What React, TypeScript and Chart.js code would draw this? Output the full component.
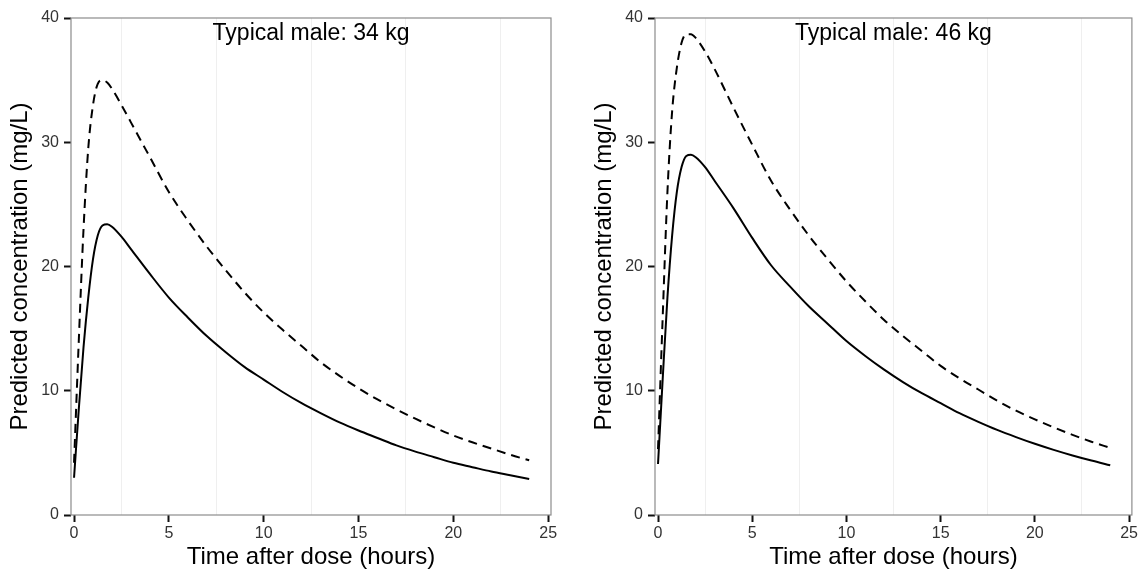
import React, { useEffect, useRef } from "react";
import { Chart, registerables } from "chart.js";

Chart.register(...registerables);

const times = [0, 0.25, 0.5, 0.75, 1, 1.25, 1.5, 1.75, 2, 2.5, 3, 4, 5, 6, 7, 8, 9, 10, 11, 12, 13, 14, 15, 16, 17, 18, 19, 20, 21, 22, 23, 24];

const leftSolid = [3.0, 8.5, 13.5, 17.5, 20.6, 22.5, 23.3, 23.4, 23.2, 22.4, 21.4, 19.4, 17.5, 15.9, 14.4, 13.1, 11.9, 10.9, 9.9, 9.0, 8.2, 7.45, 6.8, 6.2, 5.6, 5.1, 4.65, 4.2, 3.85, 3.5, 3.2, 2.9];
const leftDashed = [4.2, 14, 23, 29.5, 33, 34.7, 35.0, 34.8, 34.3, 33.0, 31.6, 28.8, 26.0, 23.7, 21.6, 19.7, 17.9, 16.3, 14.9, 13.6, 12.3, 11.2, 10.2, 9.3, 8.5, 7.75, 7.05, 6.4, 5.85, 5.35, 4.85, 4.4];
const rightSolid = [4.1, 11, 17.5, 22.5, 26, 28, 28.9, 29.0, 28.8, 28.0, 26.9, 24.7, 22.3, 20.1, 18.4, 16.8, 15.4, 14.0, 12.8, 11.7, 10.7, 9.8, 9.0, 8.2, 7.5, 6.85, 6.27, 5.73, 5.24, 4.79, 4.38, 4.0];
const rightDashed = [5.3, 16, 26, 32.5, 36, 38, 38.7, 38.7, 38.4, 37.3, 35.9, 32.8, 29.8, 26.9, 24.6, 22.5, 20.6, 18.8, 17.2, 15.7, 14.4, 13.2, 12.0, 11.0, 10.1, 9.2, 8.4, 7.7, 7.05, 6.45, 5.9, 5.4];

const xMajorTicks = [0, 5, 10, 15, 20, 25];
const xMinorTicks = [2.5, 7.5, 12.5, 17.5, 22.5];
const yMajorTicks = [0, 10, 20, 30, 40];
const yMinorTicks = [5, 15, 25, 35];

const panelTitles = ["Typical male: 34 kg", "Typical male: 46 kg"];
const xAxisTitle = "Time after dose (hours)";
const yAxisTitle = "Predicted concentration (mg/L)";

const FONT = '"Liberation Sans", Arial, Helvetica, sans-serif';
Chart.defaults.font.family = FONT;

const panelDecor = {
  id: "panelDecor",
  afterDraw(chart: any, _args: any, opts: any) {
    const { ctx, chartArea } = chart;
    const { left, right, top, bottom } = chartArea;
    ctx.save();
    ctx.strokeStyle = "#8c8c8c";
    ctx.lineWidth = 1.2;
    ctx.strokeRect(left, top, right - left, bottom - top);
    ctx.fillStyle = "#000";
    ctx.font = `23px ${FONT}`;
    ctx.textAlign = "center";
    ctx.textBaseline = "middle";
    ctx.fillText(opts.text || "", (left + right) / 2, top + 16);
    ctx.restore();
  },
};

const isMajor = (v: number) => Math.abs(v % 5) < 1e-9;

function Panel({ title, solid, dashed, width, rightPad, x }: any) {
  const ref = useRef<HTMLCanvasElement | null>(null);
  useEffect(() => {
    if (!ref.current) return;
    const chart = new Chart(ref.current, {
      type: "line",
      data: {
        datasets: [
          {
            data: times.map((t, i) => ({ x: t, y: dashed[i] })),
            borderColor: "#000",
            borderWidth: 2,
            borderDash: [9, 6],
            pointRadius: 0,
            cubicInterpolationMode: "monotone",
            fill: false,
          },
          {
            data: times.map((t, i) => ({ x: t, y: solid[i] })),
            borderColor: "#000",
            borderWidth: 2,
            pointRadius: 0,
            cubicInterpolationMode: "monotone",
            fill: false,
          },
        ],
      },
      options: {
        animation: false,
        responsive: false,
        maintainAspectRatio: false,
        layout: { padding: { top: 18, right: rightPad, left: 0, bottom: 0 } },
        plugins: {
          legend: { display: false },
          tooltip: { enabled: false },
          title: { display: false },
          panelDecor: { text: title },
        } as any,
        scales: {
          x: {
            type: "linear",
            min: -0.16,
            max: 25.15,
            afterBuildTicks: (s: any) => {
              s.ticks = [...xMajorTicks, ...xMinorTicks].sort((a, b) => a - b).map((v) => ({ value: v }));
            },
            afterFit: (s: any) => {
              s.height = 57;
            },
            border: { display: false },
            grid: {
              color: (c: any) => (c.tick && !isMajor(c.tick.value) ? "#efefef" : "rgba(0,0,0,0)"),
              tickColor: (c: any) => (c.tick && isMajor(c.tick.value) ? "#111" : "rgba(0,0,0,0)"),
              tickLength: 7,
              tickWidth: 2,
              lineWidth: 1,
            },
            ticks: {
              autoSkip: false,
              maxRotation: 0,
              padding: 2,
              color: "#333",
              font: { size: 16 },
              callback: (v: any) => (isMajor(Number(v)) ? String(v) : ""),
            },
            title: {
              display: true,
              text: xAxisTitle,
              color: "#000",
              font: { size: 24 },
              padding: { top: 0, bottom: 0 },
            },
          },
          y: {
            type: "linear",
            min: 0,
            max: 40,
            afterBuildTicks: (s: any) => {
              s.ticks = [...yMajorTicks, ...yMinorTicks].sort((a, b) => a - b).map((v) => ({ value: v }));
            },
            afterFit: (s: any) => {
              s.width = 71;
            },
            border: { display: false },
            grid: {
              color: (c: any) => (c.tick && !isMajor(c.tick.value) ? "#efefef" : "rgba(0,0,0,0)"),
              tickColor: (c: any) => (c.tick && c.tick.value % 10 === 0 ? "#111" : "rgba(0,0,0,0)"),
              tickLength: 7,
              tickWidth: 2,
              lineWidth: 1,
            },
            ticks: {
              autoSkip: false,
              padding: 5,
              color: "#333",
              font: { size: 16 },
              callback: (v: any) => (Number(v) % 10 === 0 ? String(v) : ""),
            },
            title: {
              display: true,
              text: yAxisTitle,
              color: "#000",
              font: { size: 24 },
              padding: { top: 6, bottom: 0 },
            },
          },
        },
      },
      plugins: [panelDecor],
    } as any);
    return () => chart.destroy();
  }, []);
  return (
    <canvas
      ref={ref}
      width={width}
      height={572}
      style={{ position: "absolute", left: x, top: 0, width, height: 572, display: "block" }}
    />
  );
}

export default function App() {
  return (
    <div
      style={{
        position: "fixed",
        left: 0,
        top: 0,
        width: 1140,
        height: 572,
        overflow: "hidden",
        background: "#fff",
      }}
    >
      <Panel title={panelTitles[0]} solid={leftSolid} dashed={leftDashed} width={570} rightPad={19} x={0} />
      <Panel title={panelTitles[1]} solid={rightSolid} dashed={rightDashed} width={556} rightPad={5} x={584} />
    </div>
  );
}
